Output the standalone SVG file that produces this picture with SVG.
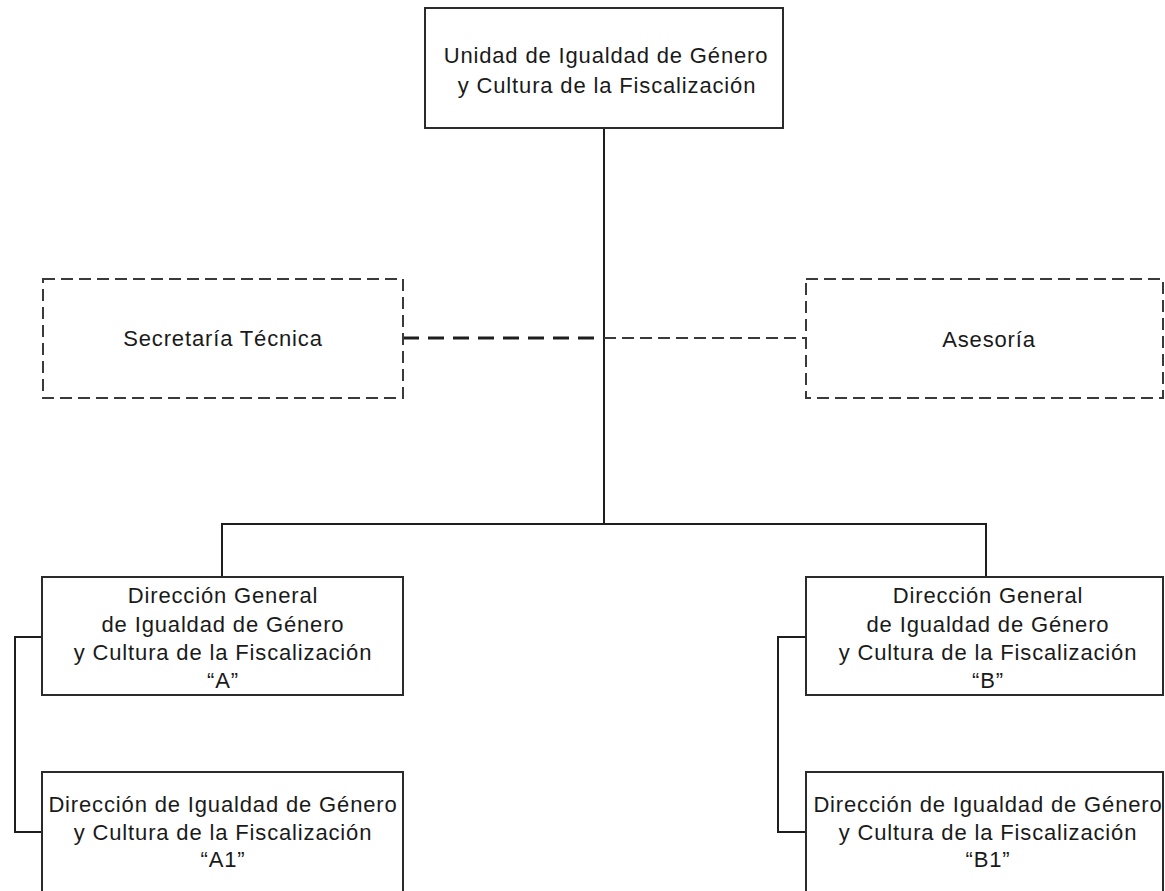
<svg xmlns="http://www.w3.org/2000/svg" width="1165" height="891" viewBox="0 0 1165 891">
  <style>
    .box { fill: #ffffff; stroke: #2b2b2b; stroke-width: 2; }
    .staff { fill: #ffffff; stroke: #3a3a3a; stroke-width: 2; stroke-dasharray: 12 6; }
    .line { fill: none; stroke: #1e1e1e; stroke-width: 2; }
    .dash-heavy { fill: none; stroke: #1e1e1e; stroke-width: 3; stroke-dasharray: 16 9; }
    .dash-light { fill: none; stroke: #3a3a3a; stroke-width: 2; stroke-dasharray: 12 6; }
    text { font-family: "Liberation Sans", Arial, sans-serif; font-size: 22px; letter-spacing: 0.85px; fill: #1a1a1a; text-anchor: middle; }
  </style>

  <!-- connectors -->
  <g id="connectors">
    <path class="line" d="M604 128 V524"/>
    <path class="line" d="M222 577 V524 H986 V577"/>
    <path class="dash-heavy" d="M403 338 H604"/>
    <path class="dash-light" d="M604 338 H806"/>
    <path class="line" d="M42 637 H15 V832 H42"/>
    <path class="line" d="M806 637 H778 V832 H806"/>
  </g>

  <g id="unidad">
    <rect class="box" x="425" y="8" width="358" height="120"/>
    <text x="606" y="63">Unidad de Igualdad de Género</text>
    <text x="607" y="93">y Cultura de la Fiscalización</text>
  </g>

  <g id="secretaria">
    <rect class="staff" x="43" y="279" width="360" height="119"/>
    <text x="223" y="346">Secretaría Técnica</text>
  </g>

  <g id="asesoria">
    <rect class="staff" x="806" y="279" width="357" height="119"/>
    <text x="989" y="347">Asesoría</text>
  </g>

  <g id="direccion-general-a">
    <rect class="box" x="42" y="577" width="361" height="118"/>
    <text x="223" y="603">Dirección General</text>
    <text x="223" y="632">de Igualdad de Género</text>
    <text x="223" y="660">y Cultura de la Fiscalización</text>
    <text x="223" y="688">“A”</text>
  </g>

  <g id="direccion-a1">
    <rect class="box" x="42" y="772" width="361" height="130"/>
    <text x="223" y="812">Dirección de Igualdad de Género</text>
    <text x="223" y="840">y Cultura de la Fiscalización</text>
    <text x="223" y="867">“A1”</text>
  </g>

  <g id="direccion-general-b">
    <rect class="box" x="806" y="577" width="357" height="118"/>
    <text x="988" y="603">Dirección General</text>
    <text x="988" y="632">de Igualdad de Género</text>
    <text x="988" y="660">y Cultura de la Fiscalización</text>
    <text x="988" y="688">“B”</text>
  </g>

  <g id="direccion-b1">
    <rect class="box" x="806" y="772" width="357" height="130"/>
    <text x="988" y="812">Dirección de Igualdad de Género</text>
    <text x="988" y="840">y Cultura de la Fiscalización</text>
    <text x="988" y="867">“B1”</text>
  </g>
</svg>
